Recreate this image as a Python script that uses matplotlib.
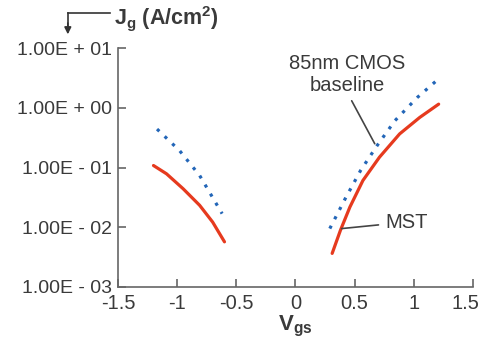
import matplotlib
matplotlib.use("Agg")
import matplotlib.pyplot as plt
import matplotlib.transforms as mtransforms

# values (Vgs in V, Jg in A/cm^2)
mst_neg_v = [-1.20, -1.09, -0.95, -0.81, -0.70, -0.60]
mst_neg_j = [0.108, 0.0785, 0.0442, 0.0233, 0.0122, 0.0057]
mst_pos_v = [0.31, 0.38, 0.46, 0.57, 0.71, 0.88, 1.05, 1.21]
mst_pos_j = [0.00365, 0.0089, 0.0218, 0.0607, 0.149, 0.365, 0.689, 1.15]

cmos_neg_v = [-1.17, -0.98, -0.81, -0.62]
cmos_neg_j = [0.44, 0.192, 0.0736, 0.0169]
cmos_pos_v = [0.29, 0.42, 0.55, 0.69, 0.84, 1.03, 1.19]
cmos_pos_j = [0.0095, 0.030, 0.089, 0.233, 0.607, 1.49, 2.82]

x_ticks = [-1.5, -1, -0.5, 0, 0.5, 1, 1.5]
x_labels = ["-1.5", "-1", "-0.5", "0", "0.5", "1", "1.5"]
y_ticks = [1e-3, 1e-2, 1e-1, 1e0, 1e1]
y_labels = ["1.00E - 03", "1.00E - 02", "1.00E - 01", "1.00E + 00", "1.00E + 01"]

plt.rcParams["font.family"] = ["Liberation Sans", "DejaVu Sans"]
plt.rcParams["mathtext.fontset"] = "custom"
plt.rcParams["mathtext.rm"] = "Liberation Sans"
plt.rcParams["mathtext.bf"] = "Liberation Sans:bold"
plt.rcParams["mathtext.it"] = "Liberation Sans:italic"

txt = "#3a3a3a"
red = "#e63a1e"
blue = "#2366b8"

fig = plt.figure(figsize=(4.81, 3.54), dpi=100)
ax = fig.add_axes([0.2453, 0.1893, 0.738, 0.675])

ax.plot(mst_neg_v, mst_neg_j, color=red, lw=2.3, solid_capstyle="round")
ax.plot(mst_pos_v, mst_pos_j, color=red, lw=2.3, solid_capstyle="round")
ax.plot(cmos_neg_v, cmos_neg_j, color=blue, lw=2.3, linestyle=(0, (1.0, 2.3)))
ax.plot(cmos_pos_v, cmos_pos_j, color=blue, lw=2.3, linestyle=(0, (1.0, 2.3)))

ax.set_yscale("log")
ax.set_xlim(-1.5, 1.5)
ax.set_ylim(1e-3, 1e1)
ax.set_xticks(x_ticks)
ax.set_xticklabels(x_labels)
ax.set_yticks(y_ticks)
ax.set_yticklabels(y_labels)
ax.minorticks_off()
ax.tick_params(direction="in", length=6, width=1.2, colors="#666666",
               labelcolor=txt, labelsize=14.5)
ax.tick_params(axis="x", pad=5)
ax.tick_params(axis="y", pad=4, labelsize=14)
# last x label sits a bit left of its tick, as in the reference
last = ax.get_xticklabels()[-1]
last.set_transform(last.get_transform() + mtransforms.ScaledTranslation(-8 / 100, 0, fig.dpi_scale_trans))
for s in ["top", "right"]:
    ax.spines[s].set_visible(False)
for s in ["left", "bottom"]:
    ax.spines[s].set_color("#666666")
    ax.spines[s].set_linewidth(1.2)

ax.set_xlabel(r"$\mathbf{V_{gs}}$", fontsize=16, color=txt, labelpad=1)

# annotations
ax.text(0.435, 3.6, "85nm CMOS\nbaseline", fontsize=14.5, color=txt,
        ha="center", va="center", linespacing=1.25)
ax.annotate("", xy=(0.67, 0.25), xytext=(0.475, 1.31),
            arrowprops=dict(arrowstyle="-", color="#444444", lw=1.2,
                            shrinkA=0, shrinkB=0))
ax.annotate("MST", xy=(0.39, 0.0095), xytext=(0.76, 0.0122),
            fontsize=14.5, color=txt, ha="left", va="center",
            arrowprops=dict(arrowstyle="-", color="#444444", lw=1.2,
                            shrinkA=3, shrinkB=0))

# y-axis label at the top with bent arrow
fig.text(0.238, 0.948, r"$\mathbf{J_g}$ (A/cm$^\mathbf{2}$)", fontsize=15.5,
         fontweight="bold", color=txt, va="center", ha="left")
fig.add_artist(plt.Line2D([0.141, 0.228], [0.963, 0.963], color="#333333", lw=1.2))
fig.add_artist(plt.Line2D([0.141, 0.141], [0.963, 0.925], color="#333333", lw=1.2))
ax.annotate("", xy=(0.141, 0.903), xytext=(0.141, 0.935), xycoords="figure fraction",
            textcoords="figure fraction",
            arrowprops=dict(arrowstyle="-|>", color="#333333", lw=1.2,
                            mutation_scale=10, shrinkA=0, shrinkB=0))

fig.savefig("out.png", dpi=100, facecolor="white")
